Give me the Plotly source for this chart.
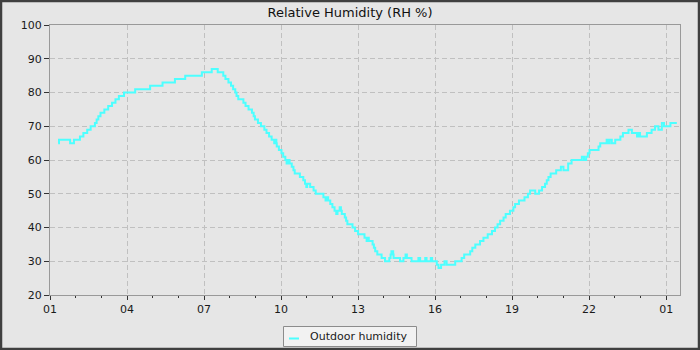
import plotly.graph_objects as go
from datetime import datetime, timedelta

# Outdoor relative humidity readings: clock time at which the value changed, and the value (%)
times = [
    "01:19", "01:21", "01:47", "01:56", "02:10", "02:18", "02:27", "02:35", "02:45", "02:49",
    "02:53", "02:58", "03:07", "03:16", "03:25", "03:33", "03:41", "03:53", "04:19", "04:54",
    "05:23", "05:52", "06:16", "06:55", "07:18", "07:32", "07:45", "07:50", "07:57", "08:03",
    "08:08", "08:13", "08:16", "08:20", "08:32", "08:37", "08:44", "08:52", "08:56", "08:59",
    "09:06", "09:13", "09:21", "09:26", "09:32", "09:38", "09:44", "09:47", "09:49", "09:50",
    "09:55", "10:01", "10:05", "10:10", "10:13", "10:17", "10:20", "10:25", "10:29", "10:32",
    "10:44", "10:52", "10:56", "10:59", "11:01", "11:08", "11:16", "11:21", "11:39", "11:44",
    "11:48", "11:50", "11:55", "12:00", "12:05", "12:09", "12:12", "12:17", "12:20", "12:22",
    "12:29", "12:32", "12:35", "12:47", "12:53", "13:00", "13:15", "13:20", "13:23", "13:25",
    "13:34", "13:37", "13:40", "13:45", "13:55", "14:03", "14:13", "14:16", "14:18", "14:22",
    "14:23", "14:38", "14:46", "14:51", "14:54", "15:05", "15:21", "15:25", "15:37", "15:40",
    "15:50", "15:53", "16:04", "16:08", "16:14", "16:22", "16:27", "16:47", "17:02", "17:08",
    "17:22", "17:27", "17:34", "17:45", "17:53", "18:03", "18:13", "18:20", "18:26", "18:32",
    "18:40", "18:45", "18:55", "19:03", "19:07", "19:16", "19:29", "19:37", "19:42", "19:54",
    "20:03", "20:10", "20:17", "20:21", "20:25", "20:30", "20:43", "20:54", "21:00", "21:11",
    "21:19", "21:43", "21:48", "21:53", "21:57", "22:01", "22:22", "22:26", "22:41", "22:44",
    "22:48", "22:53", "23:01", "23:13", "23:19", "23:32", "23:40", "23:52", "23:55", "23:59",
    "00:15", "00:26", "00:34", "00:42", "00:50", "00:55", "01:10",
]
rh = [
    65, 66, 65, 66, 67, 68, 69, 70, 71, 72,
    73, 74, 75, 76, 77, 78, 79, 80, 81, 82,
    83, 84, 85, 86, 87, 86, 85, 84, 83, 82,
    81, 80, 79, 78, 77, 76, 75, 74, 73, 72,
    71, 70, 69, 68, 67, 66, 65, 66, 65, 64,
    63, 62, 61, 60, 59, 60, 59, 58, 57, 56,
    55, 54, 53, 52, 53, 52, 51, 50, 49, 48,
    49, 48, 47, 46, 45, 44, 45, 46, 45, 44,
    43, 42, 41, 40, 39, 38, 37, 36, 37, 36,
    35, 34, 33, 32, 31, 30, 31, 32, 33, 32,
    31, 30, 31, 32, 31, 30, 31, 30, 31, 30,
    31, 30, 29, 28, 29, 30, 29, 30, 31, 32,
    33, 34, 35, 36, 37, 38, 39, 40, 41, 42,
    43, 44, 45, 46, 47, 48, 49, 50, 51, 50,
    51, 52, 53, 54, 55, 56, 57, 58, 57, 59,
    60, 61, 60, 61, 62, 63, 64, 65, 66, 65,
    66, 65, 66, 67, 68, 69, 68, 67, 68, 67,
    68, 69, 70, 69, 71, 70, 71,
]
last_time = "01:25"  # final reading (next day)

y_ticks = [20, 30, 40, 50, 60, 70, 80, 90, 100]

# Build timestamps, rolling over to the next day after midnight
base = datetime(2024, 6, 1)
xs, day, prev = [], 0, None
for t in times + [last_time]:
    h, m = map(int, t.split(":"))
    mins = h * 60 + m
    if prev is not None and mins < prev:
        day += 1
    prev = mins
    xs.append(base + timedelta(days=day, minutes=mins))
ys = rh + [rh[-1]]

x_start = base + timedelta(hours=1)
x_end = x_start + timedelta(hours=24.54)

# Figure geometry (pixels) for placing decorations outside the plot area
W, H = 700, 350
L, R, T, B = 50, 20, 25, 55
PW, PH = W - L - R, H - T - B


def px(x):
    return (x - L) / PW


def py(y):
    return (H - B - y) / PH


BG = "#e6e6e6"
FONT = "DejaVu Sans"
LINE_COLOR = "#4dffff"

fig = go.Figure()
fig.add_trace(go.Scatter(
    x=xs, y=ys, mode="lines", line=dict(color=LINE_COLOR, width=2, shape="hv"),
    name="Outdoor humidity", showlegend=False,
))

fig.update_layout(
    width=W, height=H,
    margin=dict(l=L, r=R, t=T, b=B, pad=0),
    paper_bgcolor=BG, plot_bgcolor=BG,
    font=dict(family=FONT, size=11, color="#1a1a1a"),
    title=dict(text="Relative Humidity (RH %)", x=0.5, xanchor="center",
               y=1 - 12 / H, yanchor="middle", yref="container",
               font=dict(family=FONT, size=13, color="#111111")),
    showlegend=False,
)

fig.update_xaxes(
    type="date", range=[x_start, x_end],
    tick0=x_start, dtick=3 * 3600 * 1000, tickformat="%H",
    ticks="outside", ticklen=4, tickcolor="#333333",
    showgrid=True, gridcolor="#c0c0c0", griddash="5px,3px", gridwidth=1,
    showline=True, linecolor="#999999", linewidth=1, mirror=True,
    zeroline=False,
    minor=dict(dtick=3600 * 1000, ticks="outside", ticklen=2,
               tickcolor="#333333", showgrid=False),
    tickfont=dict(size=11, family=FONT, color="#1a1a1a"),
)
fig.update_yaxes(
    range=[20, 100], tickvals=y_ticks,
    ticks="outside", ticklen=5, tickcolor="#333333",
    showgrid=True, gridcolor="#c0c0c0", griddash="5px,3px", gridwidth=1,
    showline=True, linecolor="#999999", linewidth=1, mirror=True,
    zeroline=False,
    tickfont=dict(size=11, family=FONT, color="#1a1a1a"),
)

# Legend box below the plot
fig.add_shape(type="rect", xref="paper", yref="paper",
              x0=px(283.5), x1=px(416.5), y0=py(346.5), y1=py(326.5),
              line=dict(color="#8c8c8c", width=1), fillcolor="#f2f2f2", layer="above")
fig.add_shape(type="line", xref="paper", yref="paper",
              x0=px(289), x1=px(299), y0=py(338.5), y1=py(338.5),
              line=dict(color=LINE_COLOR, width=2), layer="above")
fig.add_annotation(text="Outdoor humidity", xref="paper", yref="paper",
                   x=px(308), y=py(337), xanchor="left", yanchor="middle",
                   showarrow=False, font=dict(family=FONT, size=11, color="#1a1a1a"))

# Outer frame around the whole image
fig.add_shape(type="rect", xref="paper", yref="paper",
              x0=px(1), x1=px(W - 1), y0=py(H - 1), y1=py(1),
              line=dict(color="#404040", width=2.5), fillcolor="rgba(0,0,0,0)", layer="above")

fig.write_html("out.html")
